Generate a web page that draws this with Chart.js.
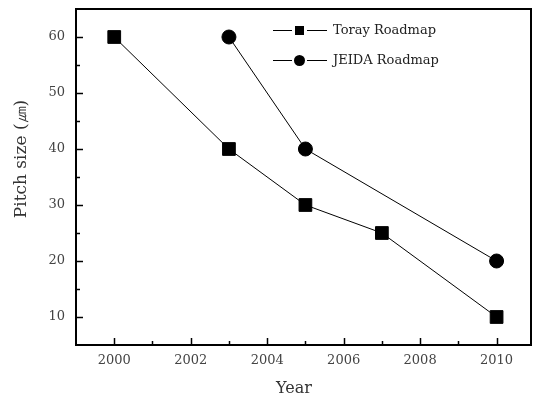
<!DOCTYPE html>
<html>
<head>
<meta charset="utf-8">
<script src="https://cdn.jsdelivr.net/npm/chart.js@4"></script>
<style>
  html, body { margin: 0; padding: 0; background: #fff; }
  #wrap { width: 533px; height: 397px; }
</style>
</head>
<body>
<div id="wrap"><canvas id="myChart" width="533" height="397"></canvas></div>
<script>
// data
const torayYears = [2000, 2003, 2005, 2007, 2010];
const torayPitch = [60, 40, 30, 25, 10];
const jeidaYears = [2003, 2005, 2010];
const jeidaPitch = [60, 40, 20];

const xTickLabels = [2000, 2002, 2004, 2006, 2008, 2010];
const yTickLabels = [10, 20, 30, 40, 50, 60];
const xMinorTicks = [2001, 2003, 2005, 2007, 2009];
const yMinorTicks = [15, 25, 35, 45, 55];

const serif = "'DejaVu Serif', 'Liberation Serif', serif";

const toPoints = (xs, ys) => xs.map((x, i) => ({ x: x, y: ys[i] }));

// frame, inward ticks, axis titles, legend
const decorations = {
  id: "decorations",
  afterDraw(chart) {
    const ctx = chart.ctx;
    const a = chart.chartArea;
    const xs = chart.scales.x;
    const ys = chart.scales.y;
    ctx.save();
    ctx.strokeStyle = "#000";
    ctx.lineWidth = 1.5;
    xTickLabels.forEach((v) => {
      const px = Math.round(xs.getPixelForValue(v)) + 0.5;
      ctx.beginPath(); ctx.moveTo(px, a.bottom); ctx.lineTo(px, a.bottom - 7); ctx.stroke();
    });
    xMinorTicks.forEach((v) => {
      const px = Math.round(xs.getPixelForValue(v)) + 0.5;
      ctx.beginPath(); ctx.moveTo(px, a.bottom); ctx.lineTo(px, a.bottom - 4); ctx.stroke();
    });
    yTickLabels.forEach((v) => {
      const py = Math.round(ys.getPixelForValue(v)) + 0.5;
      ctx.beginPath(); ctx.moveTo(a.left, py); ctx.lineTo(a.left + 7, py); ctx.stroke();
    });
    yMinorTicks.forEach((v) => {
      const py = Math.round(ys.getPixelForValue(v)) + 0.5;
      ctx.beginPath(); ctx.moveTo(a.left, py); ctx.lineTo(a.left + 4, py); ctx.stroke();
    });
    ctx.lineWidth = 2;
    ctx.strokeRect(a.left, a.top, a.right - a.left, a.bottom - a.top);

    // axis titles
    ctx.fillStyle = "#333";
    ctx.font = "16px " + serif;
    ctx.textAlign = "center";
    ctx.textBaseline = "middle";
    ctx.fillText("Year", 294, 389);
    ctx.save();
    ctx.translate(22, 159);
    ctx.rotate(-Math.PI / 2);
    ctx.font = "17px " + serif;
    ctx.fillText("Pitch size (\u339B)", 0, 0);
    ctx.restore();

    // legend
    ctx.font = "13px " + serif;
    ctx.textAlign = "left";
    ctx.lineWidth = 1;
    chart.data.datasets.forEach((ds, i) => {
      const y = 30 + i * 30 + 0.5;
      ctx.beginPath();
      ctx.moveTo(273, y); ctx.lineTo(292, y);
      ctx.moveTo(307, y); ctx.lineTo(327, y);
      ctx.stroke();
      ctx.fillStyle = "#000";
      if (ds.pointStyle === "rect") {
        ctx.fillRect(295, y - 4.5, 9, 9);
      } else {
        ctx.beginPath(); ctx.arc(299.5, y, 5.5, 0, Math.PI * 2); ctx.fill();
      }
      ctx.fillStyle = "#222";
      ctx.fillText(ds.label, 333, y);
    });
    ctx.restore();
  },
};

const noScalePadding = (s) => {
  s.paddingTop = 0;
  s.paddingBottom = 0;
  s.paddingLeft = 0;
  s.paddingRight = 0;
};

const ctx = document.getElementById("myChart").getContext("2d");
new Chart(ctx, {
  type: "line",
  data: {
    datasets: [
      {
        label: "Toray Roadmap",
        data: toPoints(torayYears, torayPitch),
        borderColor: "#000",
        backgroundColor: "#000",
        borderWidth: 1,
        pointStyle: "rect",
        pointRadius: 9,
        pointHoverRadius: 9,
      },
      {
        label: "JEIDA Roadmap",
        data: toPoints(jeidaYears, jeidaPitch),
        borderColor: "#000",
        backgroundColor: "#000",
        borderWidth: 1,
        pointStyle: "circle",
        pointRadius: 7,
        pointHoverRadius: 7,
      },
    ],
  },
  options: {
    responsive: false,
    animation: false,
    layout: { autoPadding: false, padding: { left: 0, top: 9, right: 2, bottom: 0 } },
    plugins: { legend: { display: false }, tooltip: { enabled: false } },
    scales: {
      x: {
        type: "linear",
        min: 1999,
        max: 2010.9,
        afterBuildTicks: (s) => { s.ticks = xTickLabels.map((v) => ({ value: v })); },
        afterFit: (s) => { s.height = 52; noScalePadding(s); },
        grid: { display: false, drawTicks: false },
        border: { display: false },
        ticks: {
          padding: 8,
          color: "#444",
          font: { family: serif, size: 13 },
          callback: (v) => String(v),
        },
      },
      y: {
        min: 5,
        max: 65,
        afterBuildTicks: (s) => { s.ticks = yTickLabels.map((v) => ({ value: v })); },
        afterFit: (s) => { s.width = 76; noScalePadding(s); },
        grid: { display: false, drawTicks: false },
        border: { display: false },
        ticks: { padding: 11, color: "#444", font: { family: serif, size: 13 } },
      },
    },
  },
  plugins: [decorations],
});
</script>
</body>
</html>
